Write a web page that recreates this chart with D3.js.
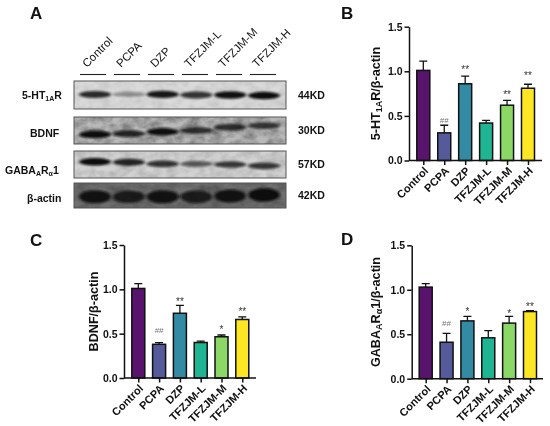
<!DOCTYPE html>
<html>
<head>
<meta charset="utf-8">
<script src="https://cdn.jsdelivr.net/npm/d3@7"></script>
<style>
    body { margin: 0; background: #fff; }
    svg { display: block; filter: blur(0.35px); }
    text { font-family: "Liberation Sans", Arial, sans-serif; font-weight: bold; fill: #111; }
    .axis path, .axis line { stroke: #111; stroke-width: 1.5; }
    .axis text { font-family: "Liberation Sans", Arial, sans-serif; font-weight: bold; fill: #111; }
</style>
</head>
<body>
<div id="chart"></div>
<script>
// Groups and colours
var groups = ["Control", "PCPA", "DZP", "TFZJM-L", "TFZJM-M", "TFZJM-H"];
var colors = ["#58146c", "#555a9b", "#338aa3", "#20b592", "#8cd867", "#fde725"];
var yTicks = [0, 0.5, 1.0, 1.5];

// Bar heights, errors, significance marks and the height each mark sits at
var htValues = [1.01, 0.31, 0.86, 0.42, 0.62, 0.81];
var htErrors = [0.105, 0.085, 0.085, 0.03, 0.055, 0.045];
var htMarks = ["", "##", "**", "", "**", "**"];
var htMarkLevels = [0, 0.454, 1.05, 0, 0.77, 0.98];

var bdnfValues = [1.01, 0.38, 0.73, 0.40, 0.465, 0.66];
var bdnfErrors = [0.055, 0.02, 0.09, 0.015, 0.02, 0.03];
var bdnfMarks = ["", "##", "**", "", "*", "**"];
var bdnfMarkLevels = [0, 0.54, 0.887, 0, 0.575, 0.778];

var gabaValues = [1.03, 0.41, 0.65, 0.46, 0.625, 0.755];
var gabaErrors = [0.04, 0.10, 0.05, 0.08, 0.075, 0.01];
var gabaMarks = ["", "##", "*", "", "*", "**"];
var gabaMarkLevels = [0, 0.63, 0.78, 0, 0.765, 0.84];

// Western blot: band darkness per lane (0-1) and height of band in the strip (0 top, 1 bottom)
var blotWeights = ["44KD", "30KD", "57KD", "42KD"];
var htBand = [0.85, 0.35, 0.95, 0.8, 0.98, 1];
var bdnfBand = [1, 0.85, 1, 0.8, 0.8, 0.75];
var gabaBand = [1, 0.88, 0.8, 0.6, 0.78, 0.78];
var actinBand = [0.95, 0.85, 0.95, 0.85, 0.95, 1];
var htLevel = [0.48, 0.48, 0.48, 0.5, 0.5, 0.52];
var bdnfLevel = [0.65, 0.62, 0.55, 0.5, 0.38, 0.32];
var gabaLevel = [0.4, 0.42, 0.48, 0.48, 0.5, 0.55];
var actinLevel = [0.55, 0.55, 0.55, 0.55, 0.52, 0.48];

var svg = d3.select("#chart").append("svg")
    .attr("width", 550)
    .attr("height", 426);

var defs = svg.append("defs");
defs.append("filter").attr("id", "bandBlur")
    .attr("x", "-30%").attr("y", "-100%").attr("width", "160%").attr("height", "300%")
    .append("feGaussianBlur").attr("stdDeviation", "1.8 1.1");

// Grainy background for the blot strips
var grain = defs.append("filter").attr("id", "grain")
    .attr("x", "0").attr("y", "0").attr("width", "100%").attr("height", "100%");
grain.append("feTurbulence").attr("type", "fractalNoise").attr("baseFrequency", "0.09 0.14").attr("numOctaves", 3).attr("seed", 4);
grain.append("feColorMatrix").attr("values", "0 0 0 0 0  0 0 0 0 0  0 0 0 0 0  0.9 0 0 0 -0.28");

function panelLetter(label, x, y) {
    svg.append("text")
        .attr("x", x)
        .attr("y", y)
        .style("font-size", "17px")
        .text(label);
}

// Writes pieces of a label, [text, true] being a subscript
function writeParts(label, parts, subSize) {
    var shift = 0;
    parts.forEach(function(p) {
        var target = p[1] ? 2 : 0;
        var span = label.append("tspan").attr("dy", target - shift).text(p[0]);
        if (p[1]) span.style("font-size", subSize);
        shift = target;
    });
}

// One bar panel with its axes, error bars and marks
function drawBars(box, values, errors, marks, markLevels, labelParts) {
    var x = d3.scalePoint().domain(groups).range([box.first, box.last]);
    var y = d3.scaleLinear().domain([0, 1.5]).range([box.bottom, box.top]);
    var barWidth = 13;

    var g = svg.append("g");

    var rows = groups.map(function(d, i) {
        return { name: d, value: values[i], error: errors[i], mark: marks[i], level: markLevels[i], color: colors[i] };
    });

    // Error bars go under the bars
    g.selectAll(".err").data(rows).join("path")
        .attr("class", "err")
        .attr("fill", "none")
        .attr("stroke", "#111")
        .attr("stroke-width", 1.3)
        .attr("d", function(d) {
            var cx = x(d.name);
            return "M" + cx + "," + y(d.value) + "V" + y(d.value + d.error) +
                "M" + (cx - 4) + "," + y(d.value + d.error) + "H" + (cx + 4);
        });

    g.selectAll(".bar").data(rows).join("rect")
        .attr("class", "bar")
        .attr("x", function(d) { return x(d.name) - barWidth / 2; })
        .attr("y", function(d) { return y(d.value); })
        .attr("width", barWidth)
        .attr("height", function(d) { return y(0) - y(d.value); })
        .attr("fill", function(d) { return d.color; })
        .attr("stroke", "#111")
        .attr("stroke-width", 1.5);

    g.selectAll(".mark").data(rows.filter(function(d) { return d.mark; })).join("text")
        .attr("class", "mark")
        .attr("x", function(d) { return x(d.name); })
        .attr("y", function(d) { return y(d.level) + (d.mark === "##" ? 3 : 6); })
        .attr("text-anchor", "middle")
        .style("font-size", function(d) { return d.mark === "##" ? "8px" : "10px"; })
        .style("font-weight", "normal")
        .style("fill", function(d) { return d.mark === "##" ? "#777" : "#333"; })
        .text(function(d) { return d.mark; });

    // X axis, extended past the last bar
    var xAxis = g.append("g")
        .attr("class", "axis")
        .attr("transform", "translate(0," + box.bottom + ")")
        .call(d3.axisBottom(x).tickSize(4.5).tickSizeOuter(0));
    xAxis.select(".domain").attr("d", "M" + box.left + ",0H" + box.right);
    xAxis.selectAll("text")
        .attr("text-anchor", "end")
        .attr("x", 0)
        .attr("y", 0)
        .attr("dy", "0.4em")
        .attr("transform", "translate(2,8) rotate(-45)")
        .style("font-size", "11px");

    var yAxis = g.append("g")
        .attr("class", "axis")
        .attr("transform", "translate(" + box.left + ",0)")
        .call(d3.axisLeft(y).tickValues(yTicks).tickFormat(d3.format(".1f")).tickSize(4.5).tickPadding(2).tickSizeOuter(0));
    yAxis.selectAll("text").style("font-size", "10.5px");

    // Y axis label
    var label = g.append("text")
        .attr("transform", "translate(" + box.labelX + "," + (box.top + box.bottom) / 2 + ") rotate(-90)")
        .attr("text-anchor", "middle")
        .style("font-size", "12.6px");
    writeParts(label, labelParts, "9px");
}

// Panel A: western blot
var lane = d3.scalePoint().domain(groups).range([95, 264]);
var laneRule = d3.scalePoint().domain(groups).range([93, 263]);
var blotRows = [
    { weight: blotWeights[0], band: htBand, level: htLevel, top: 81, height: 28, bg: "#dadada", grain: 0.18, thick: 5 },
    { weight: blotWeights[1], band: bdnfBand, level: bdnfLevel, top: 117, height: 27, bg: "#b8b8b8", grain: 0.7, thick: 5 },
    { weight: blotWeights[2], band: gabaBand, level: gabaLevel, top: 151, height: 27, bg: "#d2d2d2", grain: 0.3, thick: 5 },
    { weight: blotWeights[3], band: actinBand, level: actinLevel, top: 183, height: 25, bg: "#707070", grain: 0.5, thick: 9 }
];

var blot = svg.append("g");

// Group names with rules over the lanes
var header = blot.selectAll(".lane").data(groups).join("g").attr("class", "lane");
header.append("line")
    .attr("x1", function(d) { return laneRule(d) - 13; })
    .attr("x2", function(d) { return laneRule(d) + 13; })
    .attr("y1", 74.5)
    .attr("y2", 74.5)
    .attr("stroke", "#222")
    .attr("stroke-width", 1.1);
header.append("text")
    .attr("transform", function(d) { return "translate(" + (laneRule(d) - 6) + ",68) rotate(-45)"; })
    .style("font-size", "11.5px")
    .style("font-weight", "normal")
    .text(function(d) { return d; });

blotRows.forEach(function(row, r) {
    var clipId = "strip" + r;
    defs.append("clipPath").attr("id", clipId)
        .append("rect").attr("x", 74).attr("y", row.top).attr("width", 212).attr("height", row.height);

    var level = d3.scaleLinear().domain([0, 1]).range([row.top, row.top + row.height]);
    var strip = blot.append("g").attr("clip-path", "url(#" + clipId + ")");

    strip.append("rect")
        .attr("x", 74).attr("y", row.top).attr("width", 212).attr("height", row.height)
        .attr("fill", row.bg);
    strip.append("rect")
        .attr("x", 74).attr("y", row.top).attr("width", 212).attr("height", row.height)
        .attr("filter", "url(#grain)")
        .attr("opacity", row.grain);

    strip.selectAll(".band").data(groups).join("ellipse")
        .attr("class", "band")
        .attr("cx", function(d) { return lane(d); })
        .attr("cy", function(d, i) { return level(row.level[i]); })
        .attr("rx", 16)
        .attr("ry", function(d, i) { return row.thick * (0.55 + 0.5 * row.band[i]) / 1.4; })
        .attr("fill", "#0c0c0c")
        .attr("opacity", function(d, i) { return row.band[i]; })
        .attr("filter", "url(#bandBlur)");

    blot.append("rect")
        .attr("x", 74).attr("y", row.top).attr("width", 212).attr("height", row.height)
        .attr("fill", "none")
        .attr("stroke", "#555")
        .attr("stroke-width", 1);

    blot.append("text")
        .attr("x", 298)
        .attr("y", row.top + row.height / 2 + 3.5)
        .style("font-size", "10.5px")
        .text(row.weight);
});

// Row names carry subscripts
var rowName = blot.append("text").attr("x", 22).attr("y", 98.5).style("font-size", "10.5px");
writeParts(rowName, [["5-HT"], ["1A", true], ["R"]], "7px");

blot.append("text").attr("x", 30).attr("y", 137).style("font-size", "10.5px").text("BDNF");

rowName = blot.append("text").attr("x", 5).attr("y", 174).style("font-size", "10.5px");
writeParts(rowName, [["GABA"], ["A", true], ["R"], ["\u03b1", true], ["1"]], "7px");

blot.append("text").attr("x", 27).attr("y", 202).style("font-size", "10.5px").text("\u03b2-actin");

// Panels B, C, D
drawBars({ left: 409, right: 542, top: 26.7, bottom: 160.5, first: 423.3, last: 528, labelX: 380 },
    htValues, htErrors, htMarks, htMarkLevels, [["5-HT"], ["1A", true], ["R/\u03b2-actin"]]);

drawBars({ left: 124, right: 256, top: 245, bottom: 378, first: 138.3, last: 242.3, labelX: 98 },
    bdnfValues, bdnfErrors, bdnfMarks, bdnfMarkLevels, [["BDNF/\u03b2-actin"]]);

drawBars({ left: 411.7, right: 543, top: 245.3, bottom: 378.7, first: 425.7, last: 530, labelX: 380 },
    gabaValues, gabaErrors, gabaMarks, gabaMarkLevels, [["GABA"], ["A", true], ["R"], ["\u03b1", true], ["1/\u03b2-actin"]]);

panelLetter("A", 30, 18.5);
panelLetter("B", 341, 18.5);
panelLetter("C", 30, 246);
panelLetter("D", 341, 245);
</script>
</body>
</html>
